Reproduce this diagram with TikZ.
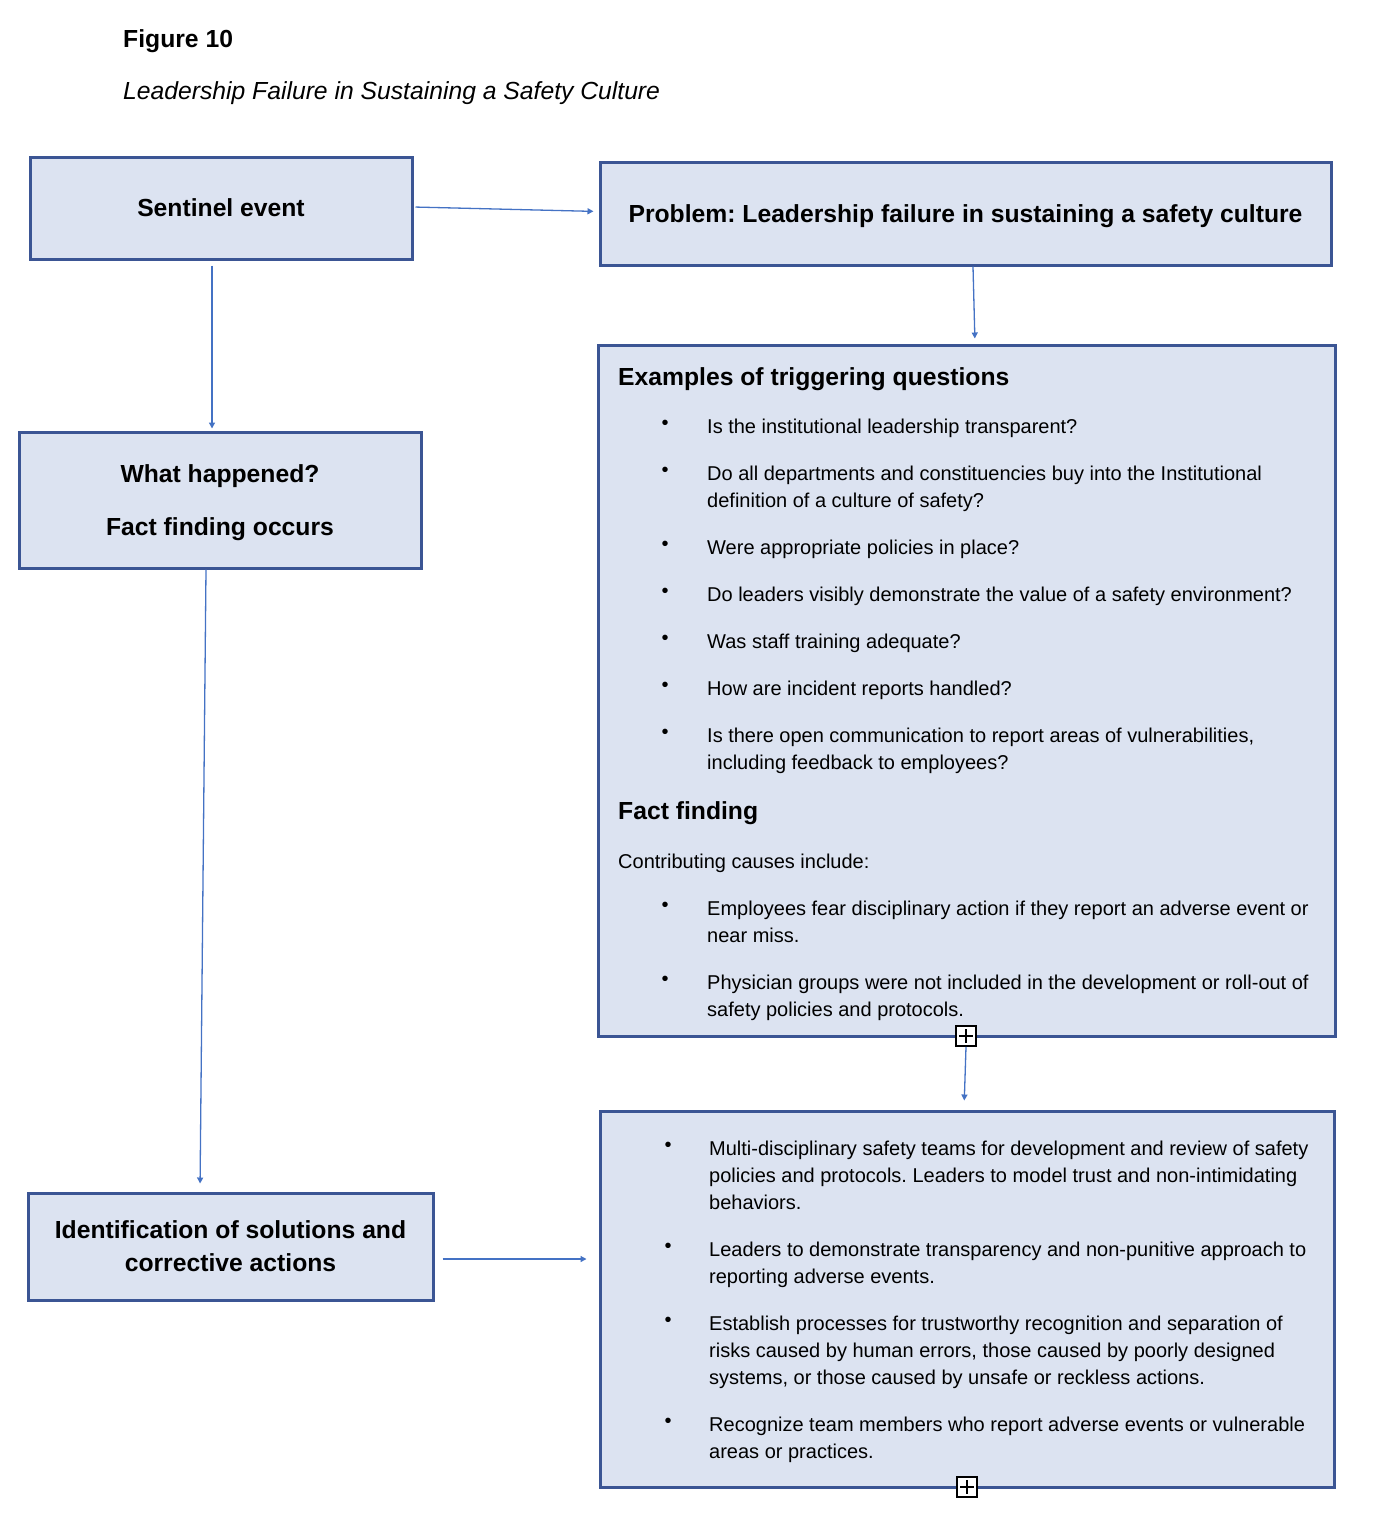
\documentclass[tikz,border=0pt]{standalone}
\usepackage{fontspec}
\setmainfont{Liberation Sans}
\usetikzlibrary{arrows.meta}
\frenchspacing

\definecolor{boxfill}{HTML}{DCE3F1}
\definecolor{boxline}{HTML}{3B5594}
\definecolor{arrowline}{HTML}{4472C4}

\newcommand{\bodyfont}{\fontsize{20}{27}\selectfont}
\newcommand{\headfont}{\fontsize{24.7}{33}\selectfont\bfseries}
\newcommand{\topstrut}{\rule{0pt}{24pt}}

\tikzset{
  block/.style={draw=boxline, fill=boxfill, line width=3pt, inner sep=0pt, font=\headfont, align=center},
  link/.style={draw=arrowline, line width=1.3pt, -{Triangle[length=6pt,width=6pt]}},
  item/.style={anchor=base west, inner sep=0pt, font=\bodyfont, align=left},
  head/.style={anchor=base west, inner sep=0pt, font=\headfont},
  dot/.style={anchor=base, inner sep=0pt, font=\bodyfont},
  plus/.style={draw=black, fill=white, line width=1.8pt, minimum size=20pt, inner sep=0pt,
    path picture={\draw[line width=1.8pt]
      ([yshift=-3pt]path picture bounding box.north) -- ([yshift=3pt]path picture bounding box.south)
      ([xshift=3pt]path picture bounding box.west) -- ([xshift=-3pt]path picture bounding box.east);}}
}

\begin{document}
\begin{tikzpicture}[x=1pt, y=-1pt]
    \useasboundingbox (0,0) rectangle (1374,1524);

    % title
    \node[head] (fig) at (123,47) {Figure 10};
    \node[head, font=\fontsize{24.7}{33}\selectfont\itshape] (title) at (123,99) {Leadership Failure in Sustaining a Safety Culture};

    % define the boxes
    \node[block, minimum width=382pt, minimum height=102pt] (sentinel) at (221,208) {Sentinel event};
    \node[block, minimum width=731pt, minimum height=103pt] (problem) at (965.5,213.5) {\topstrut Problem: Leadership failure in sustaining a safety culture};
    \node[block, minimum width=402pt, minimum height=136pt] (what) at (220,500) {\topstrut What happened?\\[20pt]Fact finding occurs};
    \node[block, minimum width=405pt, minimum height=107pt] (ident) at (230.5,1246.5) {Identification of solutions and\\corrective actions};
    \node[block, minimum width=737pt, minimum height=691pt] (examples) at (966.5,690.5) {};
    \node[block, minimum width=734pt, minimum height=376pt] (solutions) at (967,1299) {};

    % text of the questions box (multi-line items sit on their last baseline)
    \node[head] (exhead) at (618,385) {Examples of triggering questions};
    \node[item] (q1) at (707,433) {Is the institutional leadership transparent?};
    \node[item] (q2) at (707,507) {Do all departments and constituencies buy into the Institutional\\definition of a culture of safety?};
    \node[item] (q3) at (707,554) {Were appropriate policies in place?};
    \node[item] (q4) at (707,601) {Do leaders visibly demonstrate the value of a safety environment?};
    \node[item] (q5) at (707,648) {Was staff training adequate?};
    \node[item] (q6) at (707,695) {How are incident reports handled?};
    \node[item] (q7) at (707,769) {Is there open communication to report areas of vulnerabilities,\\including feedback to employees?};
    \node[head] (ffhead) at (618,819) {Fact finding};
    \node[item] (cintro) at (618,868) {Contributing causes include:};
    \node[item] (c1) at (707,942) {Employees fear disciplinary action if they report an adverse event or\\near miss.};
    \node[item] (c2) at (707,1016) {Physician groups were not included in the development or roll-out of\\safety policies and protocols.};
    \foreach \y [count=\i] in {433,480,554,601,648,695,742,915,989}
        \node[dot] (qdot\i) at (665,\y-4) {•};

    % text of the solutions box
    \node[item] (s1) at (709,1209) {Multi-disciplinary safety teams for development and review of safety\\policies and protocols. Leaders to model trust and non-intimidating\\behaviors.};
    \node[item] (s2) at (709,1283) {Leaders to demonstrate transparency and non-punitive approach to\\reporting adverse events.};
    \node[item] (s3) at (709,1384) {Establish processes for trustworthy recognition and separation of\\risks caused by human errors, those caused by poorly designed\\systems, or those caused by unsafe or reckless actions.};
    \node[item] (s4) at (709,1458) {Recognize team members who report adverse events or vulnerable\\areas or practices.};
    \foreach \y [count=\i] in {1155,1256,1330,1431}
        \node[dot] (sdot\i) at (668,\y-4) {•};

    % the small expand marks
    \node[plus] (plusA) at (966,1036) {};
    \node[plus] (plusB) at (967,1487) {};

    % define the links
    \draw[link, shorten <=2pt, shorten >=5pt] ([yshift=1pt]sentinel.east) -- ([yshift=2pt]problem.west);
    \draw[link, shorten >=5pt] ([xshift=7.5pt]problem.south) -- ([xshift=8.5pt]examples.north);
    \draw[link, shorten <=5pt, shorten >=2pt] ([xshift=-9pt]sentinel.south) -- ([xshift=-8pt]what.north);
    \draw[link, shorten >=8pt] ([xshift=-14pt]what.south) -- ([xshift=-30.5pt]ident.north);
    \draw[link, shorten >=9pt] (plusA.south) -- ([xshift=-3pt]solutions.north);
    \draw[link, shorten <=8pt, shorten >=12pt] ([yshift=-12.5pt]ident.east) -- ([yshift=40pt]solutions.west);
\end{tikzpicture}
\end{document}
